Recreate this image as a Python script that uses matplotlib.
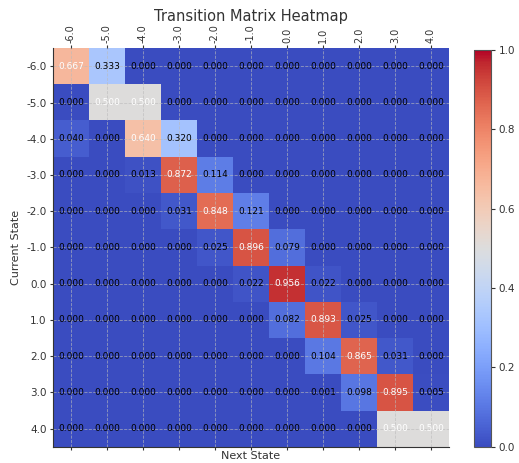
import numpy as np
import matplotlib
matplotlib.use("Agg")
import matplotlib.pyplot as plt

states = [-6.0, -5.0, -4.0, -3.0, -2.0, -1.0, 0.0, 1.0, 2.0, 3.0, 4.0]

# rows = current state, cols = next state
row_m6 = [0.667, 0.333, 0, 0, 0, 0, 0, 0, 0, 0, 0]
row_m5 = [0, 0.500, 0.500, 0, 0, 0, 0, 0, 0, 0, 0]
row_m4 = [0.040, 0, 0.640, 0.320, 0, 0, 0, 0, 0, 0, 0]
row_m3 = [0, 0, 0.013, 0.872, 0.114, 0, 0, 0, 0, 0, 0]
row_m2 = [0, 0, 0, 0.031, 0.848, 0.121, 0, 0, 0, 0, 0]
row_m1 = [0, 0, 0, 0, 0.025, 0.896, 0.079, 0, 0, 0, 0]
row_0 = [0, 0, 0, 0, 0, 0.022, 0.956, 0.022, 0, 0, 0]
row_1 = [0, 0, 0, 0, 0, 0, 0.082, 0.893, 0.025, 0, 0]
row_2 = [0, 0, 0, 0, 0, 0, 0, 0.104, 0.865, 0.031, 0]
row_3 = [0, 0, 0, 0, 0, 0, 0, 0.001, 0.098, 0.895, 0.005]
row_4 = [0, 0, 0, 0, 0, 0, 0, 0, 0, 0.500, 0.500]

mat = np.array([row_m6, row_m5, row_m4, row_m3, row_m2, row_m1,
                row_0, row_1, row_2, row_3, row_4])

txt = "#333333"
fig = plt.figure(figsize=(5.19, 4.63), dpi=100)
ax = fig.add_axes([0.102, 0.035, 0.763, 0.861])
cax = fig.add_axes([0.913, 0.035, 0.034, 0.857])

im = ax.imshow(mat, cmap="coolwarm", vmin=0, vmax=1, aspect="auto",
               interpolation="nearest")
cb = fig.colorbar(im, cax=cax)
cb.ax.tick_params(labelsize=7.5, colors=txt, length=3, pad=2)
cb.outline.set_edgecolor("#555555")

n = len(states)
labels = [f"{s:.1f}" for s in states]
ax.set_xticks(np.arange(n))
ax.set_yticks(np.arange(n))
ax.set_xticklabels(labels, rotation=90)
ax.set_yticklabels(labels)
ax.tick_params(axis="x", top=True, labeltop=True, bottom=True, labelbottom=False,
               labelsize=7, colors=txt, length=2, pad=1.5)
ax.tick_params(axis="y", labelsize=7.5, colors=txt, length=2.5, pad=2)
ax.grid(True, linestyle="--", color="#bbbbbb", linewidth=0.6, alpha=0.7)

thresh = mat.max() / 2
for i in range(n):
    for j in range(n):
        v = mat[i, j]
        ax.text(j, i, f"{v:.3f}", ha="center", va="center", fontsize=6.5,
                color="white" if v > thresh else "black")

for side in ["top", "right"]:
    ax.spines[side].set_visible(False)
for side in ["left", "bottom"]:
    ax.spines[side].set_color("#333333")

ax.set_title("Transition Matrix Heatmap", fontsize=10.5, color=txt, y=1.068, pad=0)
ax.set_xlabel("Next State", fontsize=8, color=txt, labelpad=1)
ax.set_ylabel("Current State", fontsize=8, color=txt)

fig.savefig("out.png", dpi=100)
